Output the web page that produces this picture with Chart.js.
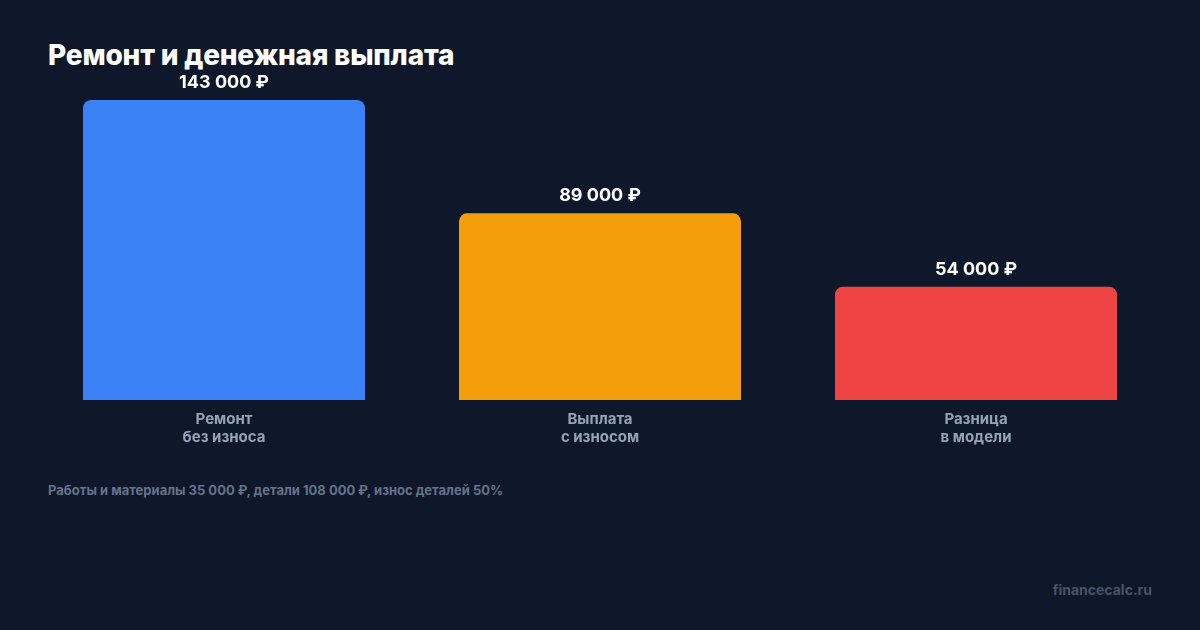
<!DOCTYPE html>
<html lang="ru">
<head>
<meta charset="utf-8">
<script src="https://cdn.jsdelivr.net/npm/chart.js@4.4.1/dist/chart.umd.min.js"></script>
<style>
  html, body { margin: 0; padding: 0; background: #0f172a; }
  body { width: 1200px; height: 630px; position: relative; overflow: hidden; font-family: Inter, "Noto Sans", sans-serif; }
  #title { position: absolute; left: 48px; top: 38px; margin: 0; font-size: 28px; font-weight: 800; color: #fff; line-height: 34px; letter-spacing: -0.2px; }
  #chart-wrap { position: absolute; left: 0; top: 0; width: 1200px; height: 470px; }
  #note { position: absolute; left: 48px; top: 482px; font-size: 13px; font-weight: 700; color: #64748b; line-height: 16px; }
  #brand { position: absolute; right: 48px; top: 581px; font-size: 14px; font-weight: 700; color: #475569; line-height: 18px; }
</style>
</head>
<body>
<h1 id="title">Ремонт и денежная выплата</h1>
<div id="chart-wrap"><canvas id="chart"></canvas></div>
<div id="note">Работы и материалы 35 000 ₽, детали 108 000 ₽, износ деталей 50%</div>
<div id="brand">financecalc.ru</div>
<script>
// payout chart: repair without wear vs payout with wear
const categories = [["Ремонт", "без износа"], ["Выплата", "с износом"], ["Разница", "в модели"]];
const amounts = [143000, 89000, 54000];
const barColors = ["#3b82f6", "#f59e0b", "#ef4444"];

const fmtRub = (v) => v.toLocaleString("ru-RU").replace(/\s/g, " ") + " ₽";

// value labels above each bar
const valueLabels = {
  id: "valueLabels",
  afterDatasetsDraw(chart) {
    const ctx = chart.ctx;
    const meta = chart.getDatasetMeta(0);
    ctx.save();
    ctx.font = "700 18px Inter, 'Noto Sans', sans-serif";
    ctx.fillStyle = "#ffffff";
    ctx.textAlign = "center";
    ctx.textBaseline = "alphabetic";
    meta.data.forEach((bar, i) => {
      ctx.fillText(fmtRub(amounts[i]), bar.x, bar.y - 12);
    });
    ctx.restore();
  }
};

new Chart(document.getElementById("chart"), {
  type: "bar",
  data: {
    labels: categories,
    datasets: [{
      data: amounts,
      backgroundColor: barColors,
      borderRadius: { topLeft: 8, topRight: 8, bottomLeft: 0, bottomRight: 0 },
      borderSkipped: "bottom",
      barPercentage: 0.75,
      categoryPercentage: 1
    }]
  },
  options: {
    responsive: true, maintainAspectRatio: false,
    animation: false,
    layout: { padding: { left: 36, right: 36, top: 100, bottom: 0 } },
    plugins: { legend: { display: false }, tooltip: { enabled: false } },
    scales: {
      x: {
        grid: { display: false, drawTicks: false },
        border: { display: false },
        ticks: {
          color: "#94a3b8",
          padding: 10,
          font: { family: "Inter, 'Noto Sans', sans-serif", size: 15, weight: "700", lineHeight: 1.2 }
        },
        afterFit(scale) { scale.height = 70; }
      },
      y: { display: false, min: 0, max: Math.max(...amounts) }
    }
  },
  plugins: [valueLabels]
});
</script>
</body>
</html>
